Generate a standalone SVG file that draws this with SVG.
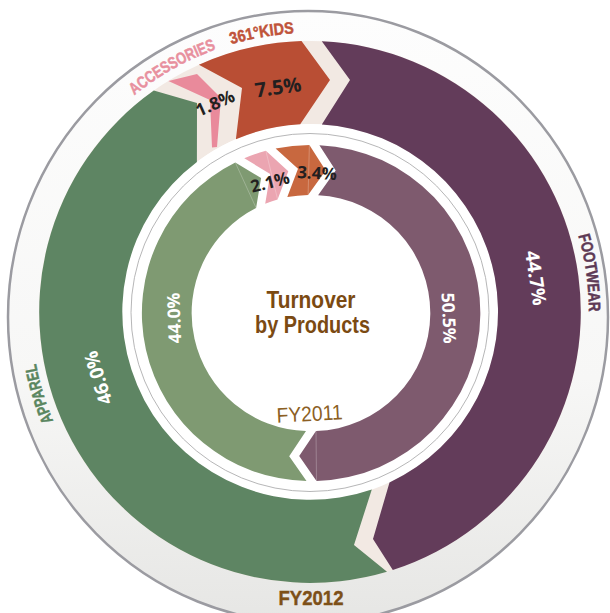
<svg xmlns="http://www.w3.org/2000/svg" width="610" height="613" viewBox="0 0 610 613">
<defs>
<linearGradient id="bg" x1="0" y1="0" x2="0" y2="1">
<stop offset="0" stop-color="#fdfdfd"/>
<stop offset="0.6" stop-color="#f7f7f6"/>
<stop offset="1" stop-color="#e6e6e4"/>
</linearGradient>
<path id="lblArc" d="M310,33 A279,279 0 0 1 310,591 A279,279 0 0 1 310,33"/>
</defs>
<style>
.cat{font-family:"Liberation Sans",Arial,sans-serif;font-weight:700;font-size:16.5px;text-anchor:middle;stroke-width:0.5px}
.pct{font-family:"Open Sans","Liberation Sans",sans-serif;font-weight:700;text-anchor:middle}
.dark{fill:#231f20}
.light{fill:#ffffff}
.seam{stroke:#ffffff;stroke-opacity:0.35;stroke-width:0.7;fill:none}
.brown{font-family:"Liberation Sans",Arial,sans-serif;text-anchor:middle}
</style>
<rect width="610" height="613" fill="#ffffff"/>
<ellipse cx="308" cy="317" rx="300" ry="306" fill="url(#bg)" stroke="#9b9ba1" stroke-width="2.5"/>
<circle cx="310" cy="312" r="229.5" fill="none" stroke="#f2e9e3" stroke-width="83"/>
<circle cx="310" cy="312" r="188" fill="#ffffff"/>
<circle cx="310" cy="312.5" r="179" fill="none" stroke="#a3a3a5" stroke-width="0.8"/>

<g id="fy2012-kids">
<path d="M198.9,64.8 A271,271 0 0 1 301.5,41.1 L330,80 L300.2,124.3 A188,188 0 0 0 235.9,139.2 L242,88 Z" fill="#b94e34"/>
<text class="pct dark" font-size="20" transform="translate(278,87) rotate(-8)" dy="0.36em">7.5%</text>
<text class="cat" fill="#c0533a" stroke="#c0533a"><textPath href="#lblArc" startOffset="1704" textLength="64" lengthAdjust="spacingAndGlyphs">361°KIDS</textPath></text>
</g>
<g id="fy2012-footwear">
<path d="M321.8,41.3 A271,271 0 0 1 392.8,570 L373,539 L389.5,482.4 A188,188 0 0 0 321.8,124.4 L350,80 Z" fill="#633c5a"/>
<text class="pct light" font-size="19" transform="translate(536,278) rotate(81.4)" dy="0.36em">44.7%</text>
<text class="cat" fill="#5e3a55" stroke="#5e3a55"><textPath href="#lblArc" startOffset="399" textLength="77" lengthAdjust="spacingAndGlyphs">FOOTWEAR</textPath></text>
</g>
<g id="fy2012-apparel">
<path d="M387,571.8 A271,271 0 0 1 153.8,90.6 L197,103 L196.9,161.9 A188,188 0 0 0 371.8,489.5 L354,545 Z" fill="#5e8563"/>
<text class="pct light" font-size="19" transform="translate(98,378) rotate(-107.3)" dy="0.36em">46.0%</text>
<text class="cat" fill="#5a8660" stroke="#5a8660"><textPath href="#lblArc" startOffset="1232" textLength="60" lengthAdjust="spacingAndGlyphs">APPAREL</textPath></text>
</g>
<g id="fy2012-accessories">
<path d="M168.4,80.9 L197,74 L221,98 L217,147 L212,147.5 L210,100 Z" fill="#e98a9b"/>
<text class="pct dark" font-size="17.5" transform="translate(215,103) rotate(-24)" dy="0.36em">1.8%</text>
<text class="cat" fill="#e8909e" stroke="#e8909e"><textPath href="#lblArc" startOffset="1609" textLength="94" lengthAdjust="spacingAndGlyphs">ACCESSORIES</textPath></text>
</g>

<g id="fy2011-footwear">
<path d="M319.4,145.2 A168,168 0 0 1 316.5,481 L299.2,456.1 L316,431 A118,118 0 0 0 318.1,195.2 L335.7,170.6 Z" fill="#7e5a6e"/>
<line class="seam" x1="316.5" y1="481" x2="316" y2="431"/>
<text class="pct light" font-size="17.5" transform="translate(449,318) rotate(87.5)" dy="0.36em">50.5%</text>
</g>
<g id="fy2011-apparel">
<path d="M306.5,481 A168,168 0 0 1 235.3,162.5 L261.1,178.1 L256.1,207.9 A118,118 0 0 0 306,431 L289.2,456.2 Z" fill="#7f9a72"/>
<line class="seam" x1="235.3" y1="162.5" x2="256.1" y2="207.9"/>
<text class="pct light" font-size="17.5" transform="translate(174,318) rotate(-92)" dy="0.36em">44.0%</text>
</g>
<g id="fy2011-accessories">
<path d="M244.3,158.3 A168,168 0 0 1 265.9,150.8 L288.3,171.2 L277.6,199.4 A118,118 0 0 0 265.2,203.7 L270.2,173.9 Z" fill="#eba5b1"/>
<line class="seam" x1="265.9" y1="150.8" x2="277.6" y2="199.4"/>
<text class="pct dark" font-size="17" transform="translate(270,182) rotate(-14)" dy="0.36em">2.1%</text>
</g>
<g id="fy2011-kids">
<path d="M275.6,148.5 A168,168 0 0 1 309.4,144.9 L325.7,170.4 L308.1,194.9 A118,118 0 0 0 287.3,197.1 L298,168.8 Z" fill="#c8683f"/>
<line class="seam" x1="309.4" y1="144.9" x2="308.1" y2="194.9"/>
<text class="pct dark" font-size="17" transform="translate(317,173) rotate(3)" dy="0.36em">3.4%</text>
</g>

<g id="center-title">
<text class="brown" x="311" y="308" font-size="24" font-weight="700" fill="#7b4a12" textLength="89" lengthAdjust="spacingAndGlyphs">Turnover</text>
<text class="brown" x="312.5" y="332.5" font-size="24" font-weight="700" fill="#7b4a12" textLength="115" lengthAdjust="spacingAndGlyphs">by Products</text>
</g>
<g id="year-labels">
<text class="brown" font-size="21" fill="#8c5f24" textLength="66" lengthAdjust="spacingAndGlyphs" transform="translate(310,421) rotate(-3)">FY2011</text>
<text class="brown" x="311" y="605" font-size="21" font-weight="700" fill="#7d5018" stroke="#7d5018" stroke-width="0.4" textLength="65" lengthAdjust="spacingAndGlyphs">FY2012</text>
</g>
</svg>
